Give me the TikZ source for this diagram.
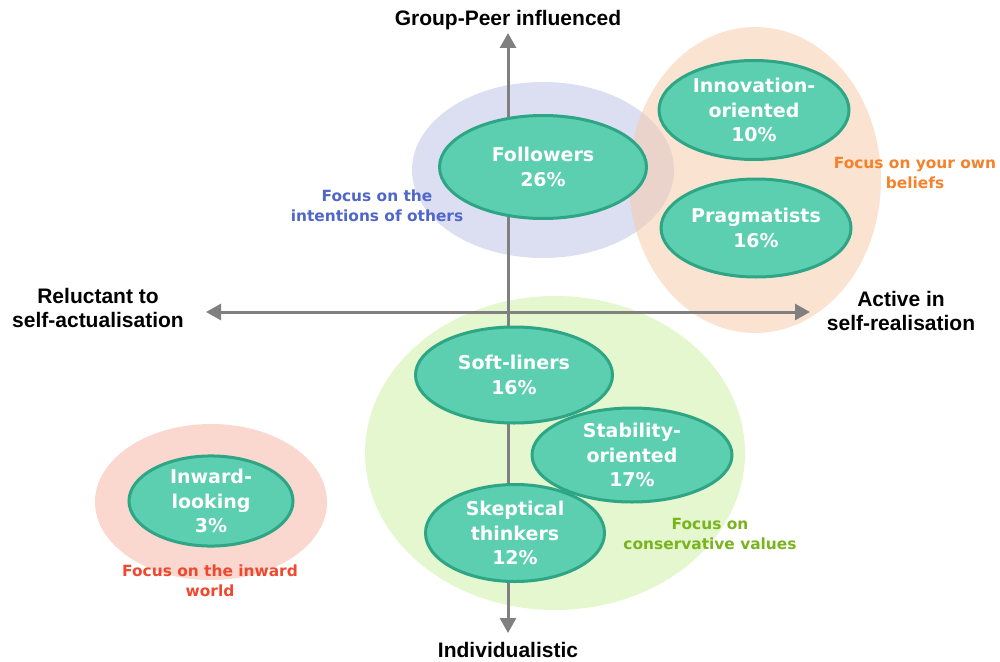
\documentclass[tikz,border=0pt]{standalone}
\usepackage{fontspec}
\usetikzlibrary{shapes.geometric,arrows.meta}
\newfontfamily\vfont{DejaVu Sans}
\newfontfamily\afont{Liberation Sans}
\definecolor{bgblue}{HTML}{DCDFF2}
\definecolor{bgorange}{HTML}{F8C8A5}
\definecolor{bggreen}{HTML}{E4F7CE}
\definecolor{bgpink}{HTML}{FAD7CF}
\definecolor{tealfill}{HTML}{5BCFB0}
\definecolor{tealline}{HTML}{2EA585}
\definecolor{axisgray}{HTML}{808080}
\definecolor{lblblue}{HTML}{5066C8}
\definecolor{lblorange}{HTML}{F5822A}
\definecolor{lblgreen}{HTML}{79B41E}
\definecolor{lblred}{HTML}{F0482F}
\tikzset{
  seg/.style={ellipse, draw=tealline, line width=3pt, fill=tealfill, inner sep=0pt,
    text=white, align=center, font=\vfont\bfseries\fontsize{19}{24.5}\selectfont},
  axislabel/.style={align=center, text=black, inner sep=0pt, font=\afont\bfseries\fontsize{21}{23.5}\selectfont},
  focuslabel/.style={align=center, font=\vfont\bfseries\fontsize{15.4}{19.5}\selectfont},
  axisline/.style={draw=axisgray, line width=3pt, {Triangle[width=16pt,length=15pt]}-{Triangle[width=16pt,length=15pt]}}
}
\begin{document}
\begin{tikzpicture}[x=1pt,y=-1pt]
\useasboundingbox (0,0) rectangle (1000,661);
% background groups
\fill[bgblue] (543,170) ellipse[x radius=131, y radius=88];
\fill[bgorange, fill opacity=0.5] (755,180) ellipse[x radius=126, y radius=153];
\fill[bggreen] (555,453) ellipse[x radius=190, y radius=157];
\fill[bgpink] (211,502) ellipse[x radius=116, y radius=78];
% axes
\coordinate (top) at (508,33);
\coordinate (bottom) at (508,633);
\coordinate (left) at (206,312);
\coordinate (right) at (810,312);
\draw[axisline] (bottom) -- (top);
\draw[axisline] (left) -- (right);
% segments
\node[seg, minimum width=207pt, minimum height=103pt] (followers) at (543,167) {Followers\\26\%};
\node[seg, minimum width=190pt, minimum height=99pt] (innov) at (754,110) {Innovation-\\oriented\\10\%};
\node[seg, minimum width=190pt, minimum height=98pt] (prag) at (756,228) {Pragmatists\\16\%};
\node[seg, minimum width=197pt, minimum height=96pt] (soft) at (514,375) {Soft-liners\\16\%};
\node[seg, minimum width=200pt, minimum height=94pt] (stab) at (632,455) {Stability-\\oriented\\17\%};
\node[seg, minimum width=179pt, minimum height=97pt] (skep) at (515,533) {Skeptical\\thinkers\\12\%};
\node[seg, minimum width=164pt, minimum height=90pt] (inward) at (211,501) {Inward-\\looking\\3\%};
% axis labels
\node[axislabel] (gp) at (508,20) {Group-Peer influenced};
\node[axislabel] (ind) at (508,650) {Individualistic};
\node[axislabel] (rel) at (98,308) {Reluctant to\\self-actualisation};
\node[axislabel] (act) at (901,311) {Active in\\self-realisation};
% focus labels
\node[focuslabel, text=lblblue] (fblue) at (377,206) {Focus on the\\intentions of others};
\node[focuslabel, text=lblorange] (forange) at (915,173) {Focus on your own\\beliefs};
\node[focuslabel, text=lblgreen] (fgreen) at (710,534) {Focus on\\conservative values};
\node[focuslabel, text=lblred] (fred) at (210,581) {Focus on the inward\\world};
\end{tikzpicture}
\end{document}
